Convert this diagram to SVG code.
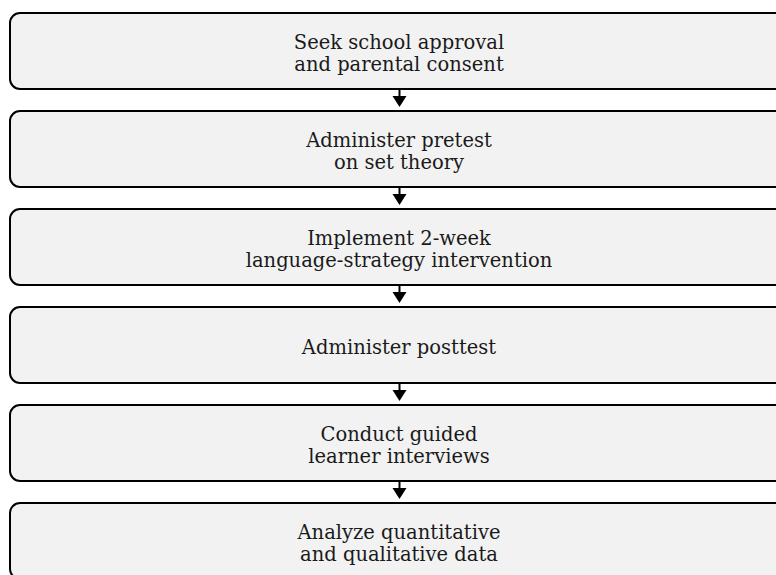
<svg xmlns="http://www.w3.org/2000/svg" width="776" height="575" viewBox="0 0 776 575">
<defs>
<style>
.box{fill:#f2f2f2;stroke:#000;stroke-width:2}
.lbl{font-family:"DejaVu Serif",serif;font-size:19.5px;fill:#1a1a1a;text-anchor:middle}
.edge{stroke:#000;stroke-width:2;fill:none}
.head{fill:#000}
</style>
</defs>
<rect width="776" height="575" fill="#fff"/>
<g id="connectors">
<g><line class="edge" x1="399.5" y1="89" x2="399.5" y2="97"/><polygon class="head" points="392.5,96 406.5,96 399.5,107"/></g>
<g><line class="edge" x1="399.5" y1="187" x2="399.5" y2="195"/><polygon class="head" points="392.5,194 406.5,194 399.5,205"/></g>
<g><line class="edge" x1="399.5" y1="285" x2="399.5" y2="293"/><polygon class="head" points="392.5,292 406.5,292 399.5,303"/></g>
<g><line class="edge" x1="399.5" y1="383" x2="399.5" y2="391"/><polygon class="head" points="392.5,390 406.5,390 399.5,401"/></g>
<g><line class="edge" x1="399.5" y1="481" x2="399.5" y2="489"/><polygon class="head" points="392.5,488 406.5,488 399.5,499"/></g>
</g>
<g id="n1"><rect class="box" x="10" y="13" width="779" height="76" rx="10"/><text class="lbl" x="399" y="49">Seek school approval</text><text class="lbl" x="399" y="71">and parental consent</text></g>
<g id="n2"><rect class="box" x="10" y="111" width="779" height="76" rx="10"/><text class="lbl" x="399" y="147">Administer pretest</text><text class="lbl" x="399" y="169">on set theory</text></g>
<g id="n3"><rect class="box" x="10" y="209" width="779" height="76" rx="10"/><text class="lbl" x="399" y="245">Implement 2-week</text><text class="lbl" x="399" y="267">language-strategy intervention</text></g>
<g id="n4"><rect class="box" x="10" y="307" width="779" height="76" rx="10"/><text class="lbl" x="399" y="354">Administer posttest</text></g>
<g id="n5"><rect class="box" x="10" y="405" width="779" height="76" rx="10"/><text class="lbl" x="399" y="441">Conduct guided</text><text class="lbl" x="399" y="463">learner interviews</text></g>
<g id="n6"><rect class="box" x="10" y="503" width="779" height="76" rx="10"/><text class="lbl" x="399" y="539">Analyze quantitative</text><text class="lbl" x="399" y="561">and qualitative data</text></g>
</svg>
